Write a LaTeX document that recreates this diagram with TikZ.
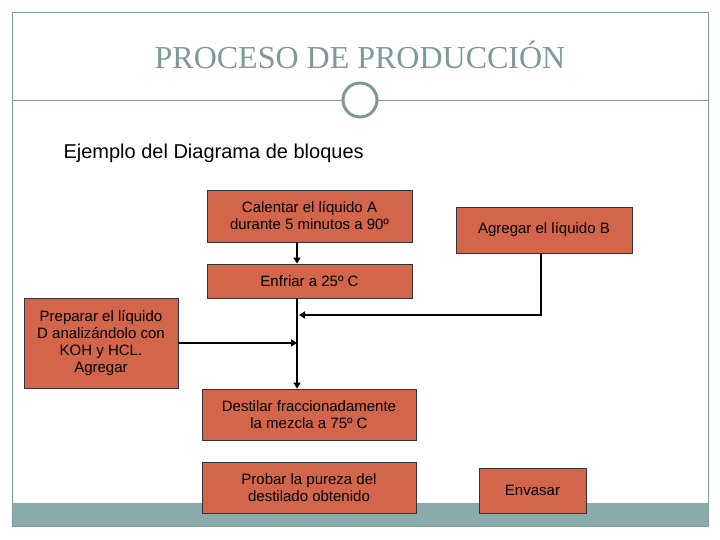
\documentclass[tikz,border=0pt]{standalone}
\usepackage{fontspec}
\setmainfont{Liberation Sans}
\newfontfamily\titlefont{Liberation Serif}
\usetikzlibrary{arrows.meta}
\definecolor{boxc}{HTML}{D2654A}
\definecolor{teal}{HTML}{8AABAB}
\definecolor{titc}{HTML}{7F9898}
\begin{document}
\begin{tikzpicture}[x=1pt,y=-1pt,
  blk/.style={draw=black!80,fill=boxc,line width=0.8pt,inner sep=0pt,align=center,font=\fontsize{15}{17}\selectfont},
  conn/.style={line width=2.6pt,-{Triangle[length=6pt,width=7pt]}}]
\useasboundingbox (0,0) rectangle (720,540);
\fill[teal] (12,503) rectangle (708,526);
\draw[titc,line width=0.8pt] (12,12) rectangle (708,526);
\draw[titc,line width=0.8pt] (12,100) -- (708,100);
\node[draw=titc,fill=white,line width=3pt,circle,minimum size=34pt,inner sep=0pt] (c) at (360,100) {};
\node[text=titc,font=\titlefont\fontsize{32}{36}\selectfont] (t) at (360,55) {PROCESO DE PRODUCCIÓN};
\node[anchor=west,font=\fontsize{20}{24}\selectfont] (s) at (60,153) {Ejemplo del Diagrama de bloques};
\node[blk,minimum width=205pt,minimum height=52pt] (a) at (309.5,216) {Calentar el líquido A\\durante 5 minutos a 90º};
\node[blk,minimum width=176pt,minimum height=46pt] (b) at (544,230) {Agregar el líquido B};
\node[blk,minimum width=205pt,minimum height=34pt] (e) at (309.5,281) {Enfriar a 25º C};
\node[blk,minimum width=154pt,minimum height=90pt] (d) at (101,343) {Preparar el líquido\\D analizándolo con\\KOH y HCL.\\Agregar};
\node[blk,minimum width=214pt,minimum height=51pt] (f) at (309,414.5) {Destilar fraccionadamente\\la mezcla a 75º C};
\node[blk,minimum width=214pt,minimum height=51pt] (p) at (309,487.5) {Probar la pureza del\\destilado obtenido};
\node[blk,minimum width=107pt,minimum height=45pt] (v) at (532.5,490.5) {Envasar};
\coordinate (j1) at (297,315);
\coordinate (j2) at (297,343);
\draw[conn] (a.south -| 297,0) -- (e.north -| 297,0);
\draw[conn] (e.south -| 297,0) -- (f.north -| 297,0);
\draw[conn] (b.south -| 541,0) |- ([xshift=2pt]j1);
\draw[conn] (d.east) -- (j2);
\end{tikzpicture}
\end{document}
